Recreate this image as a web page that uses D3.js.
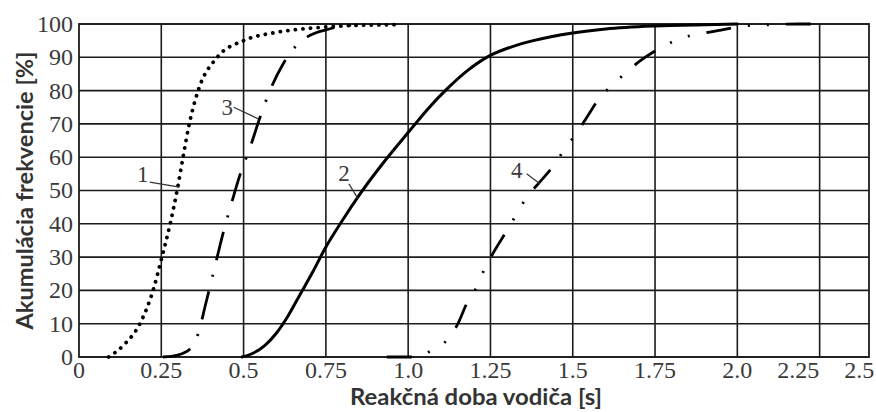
<!DOCTYPE html>
<html>
<head>
<meta charset="utf-8">
<script src="https://cdn.jsdelivr.net/npm/d3@7"></script>
<style>
  body { margin: 0; background: #fff; }
</style>
</head>
<body>
<svg id="chart" width="876" height="412"></svg>
<script>
// tick values and their printed labels
const xTickValues = [0, 0.25, 0.5, 0.75, 1.0, 1.25, 1.5, 1.75, 2.0, 2.25, 2.5];
const xTickLabels = ["0", "0.25", "0.5", "0.75", "1.0", "1.25", "1.5", "1.75", "2.0", "2.25", "2.5"];
const xGridValues = [0.25, 0.5, 0.75, 1.0, 1.25, 1.5, 1.75, 2.0, 2.25];
const yTickValues = [0, 10, 20, 30, 40, 50, 60, 70, 80, 90, 100];

// curve 1 (dotted) - [time s, cumulative %]
const curve1 = [[0.09,0],[0.14,4],[0.185,10],[0.225,20],[0.252,30],[0.277,40],[0.298,50],[0.316,60],
  [0.335,70],[0.362,80],[0.42,90],[0.50,95],[0.60,97.5],[0.70,98.7],[0.80,99.4],[0.96,99.8]];
// curve 2 (solid)
const curve2 = [[0.495,0],[0.53,1.2],[0.565,3.5],[0.60,7.2],[0.635,12.3],[0.67,18.5],[0.71,25.5],
  [0.747,32.5],[0.80,41],[0.854,49],[0.93,59],[1.005,68],[1.06,74.5],[1.118,80.5],[1.18,86],
  [1.248,90.5],[1.31,93],[1.38,95],[1.50,97.3],[1.60,98.5],[1.75,99.4],[1.9,99.8],[2.0,100]];
// curve 3 (dash-dot)
const curve3 = [[0.255,0],[0.30,0.6],[0.337,2.4],[0.362,7],[0.385,16],[0.41,26],[0.44,38],[0.46,45],
  [0.49,55],[0.52,63],[0.55,72],[0.58,80],[0.62,88],[0.66,93.5],[0.70,96.5],[0.76,98.5],[0.86,100]];
// curve 4 (dash-dot-dot)
const curve4 = [[0.935,0],[1.015,0],[1.05,1],[1.072,2],[1.117,5],[1.15,9.8],[1.18,16.5],[1.21,21.3],
  [1.233,26.7],[1.257,31],[1.30,38],[1.33,43],[1.36,48],[1.395,52],[1.446,58],[1.477,62.7],[1.51,67],
  [1.543,72],[1.583,78],[1.625,82],[1.668,86],[1.713,89.5],[1.78,93.5],[1.83,95.8],[1.886,97],
  [1.94,98],[2.02,99.4],[2.08,99.7],[2.13,99.9],[2.19,100],[2.27,100]];

// curve numbers: text position and end of leader line, in data units
const labelNames = ["1", "2", "3", "4"];
const labelAt = [[0.194,52.5],[0.805,53],[0.45,72.6],[1.33,53.7]];
const leaderFrom = [[0.215,52.5],[0.82,52],[0.47,75],[1.36,55]];
const leaderTo = [[0.305,51],[0.848,47.5],[0.545,71.5],[1.40,52]];

const svg = d3.select("#chart");
const margin = {left: 79, right: 7, top: 24, bottom: 55};
const W = 876, H = 412;

const x = d3.scaleLinear().domain([0, 2.4]).range([margin.left, W - margin.right]);
const y = d3.scaleLinear().domain([0, 100]).range([H - margin.bottom, margin.top]);
// the printed tick labels of the scan are squeezed after 2.0
const xLabelPos = d3.scaleLinear().domain([0, 2.0, 2.5]).range([x(0), x(2.0), x(2.37)]);

const gridColor = "#1c1c1c";
const textColor = "#3a3a3a";

// grid
svg.append("g").selectAll("line.v")
  .data(xGridValues)
  .enter().append("line")
    .attr("x1", d => x(d)).attr("x2", d => x(d))
    .attr("y1", y(0)).attr("y2", y(100))
    .attr("stroke", gridColor).attr("stroke-width", 1.6);

svg.append("g").selectAll("line.h")
  .data(yTickValues)
  .enter().append("line")
    .attr("x1", x(0)).attr("x2", x(2.4))
    .attr("y1", d => y(d)).attr("y2", d => y(d))
    .attr("stroke", gridColor).attr("stroke-width", 1.6);

svg.append("rect")
  .attr("x", x(0)).attr("y", y(100))
  .attr("width", x(2.4) - x(0)).attr("height", y(0) - y(100))
  .attr("fill", "none").attr("stroke", gridColor).attr("stroke-width", 1.8);

// tick labels
svg.append("g").selectAll("text")
  .data(xTickValues)
  .enter().append("text")
    .attr("x", d => xLabelPos(d))
    .attr("y", y(0) + 21)
    .attr("text-anchor", "middle")
    .style("font-family", "Liberation Serif")
    .style("font-size", "24px")
    .style("fill", textColor)
    .text((d, i) => xTickLabels[i]);

svg.append("g").selectAll("text")
  .data(yTickValues)
  .enter().append("text")
    .attr("x", x(0) - 6)
    .attr("y", d => y(d))
    .attr("dy", "0.33em")
    .attr("text-anchor", "end")
    .style("font-family", "Liberation Serif")
    .style("font-size", "24px")
    .style("fill", textColor)
    .text(d => d);

// curves
const line = d3.line()
  .x(d => x(d[0]))
  .y(d => y(d[1]))
  .curve(d3.curveMonotoneX);

const curves = [
  {data: curve1, width: 3.8, dash: "0.1 7.5", cap: "round"},
  {data: curve2, width: 3, dash: null, cap: "round"},
  {data: curve3, width: 2.8, dash: "29 15 2 15", cap: "butt"},
  {data: curve4, width: 2.8, dash: "25 17 2 17 2 17", cap: "butt"}
];

svg.append("g").selectAll("path")
  .data(curves)
  .enter().append("path")
    .attr("d", d => line(d.data))
    .attr("fill", "none")
    .attr("stroke", "#000")
    .attr("stroke-width", d => d.width)
    .attr("stroke-linecap", d => d.cap)
    .attr("stroke-dasharray", d => d.dash);

// curve numbers with leader lines
svg.append("g").selectAll("line")
  .data(labelNames)
  .enter().append("line")
    .attr("x1", (d, i) => x(leaderFrom[i][0]))
    .attr("y1", (d, i) => y(leaderFrom[i][1]))
    .attr("x2", (d, i) => x(leaderTo[i][0]))
    .attr("y2", (d, i) => y(leaderTo[i][1]))
    .attr("stroke", "#333").attr("stroke-width", 1.2);

svg.append("g").selectAll("text")
  .data(labelNames)
  .enter().append("text")
    .attr("x", (d, i) => x(labelAt[i][0]))
    .attr("y", (d, i) => y(labelAt[i][1]))
    .attr("text-anchor", "middle")
    .style("font-family", "Liberation Serif")
    .style("font-size", "23px")
    .style("fill", textColor)
    .text(d => d);

// axis titles
svg.append("text")
  .attr("x", (x(0) + x(2.4)) / 2 + 2)
  .attr("y", 405)
  .attr("text-anchor", "middle")
  .attr("textLength", 252)
  .attr("lengthAdjust", "spacingAndGlyphs")
  .style("font-family", "Lato")
  .style("font-weight", "bold")
  .style("font-size", "22px")
  .style("fill", "#333")
  .text("Reakčná doba vodiča [s]");

svg.append("text")
  .attr("transform", `translate(33,${(y(0) + y(100)) / 2}) rotate(-90)`)
  .attr("text-anchor", "middle")
  .attr("textLength", 278)
  .attr("lengthAdjust", "spacingAndGlyphs")
  .style("font-family", "Lato")
  .style("font-weight", "bold")
  .style("font-size", "22px")
  .style("fill", "#333")
  .text("Akumulácia frekvencie [%]");
</script>
</body>
</html>
